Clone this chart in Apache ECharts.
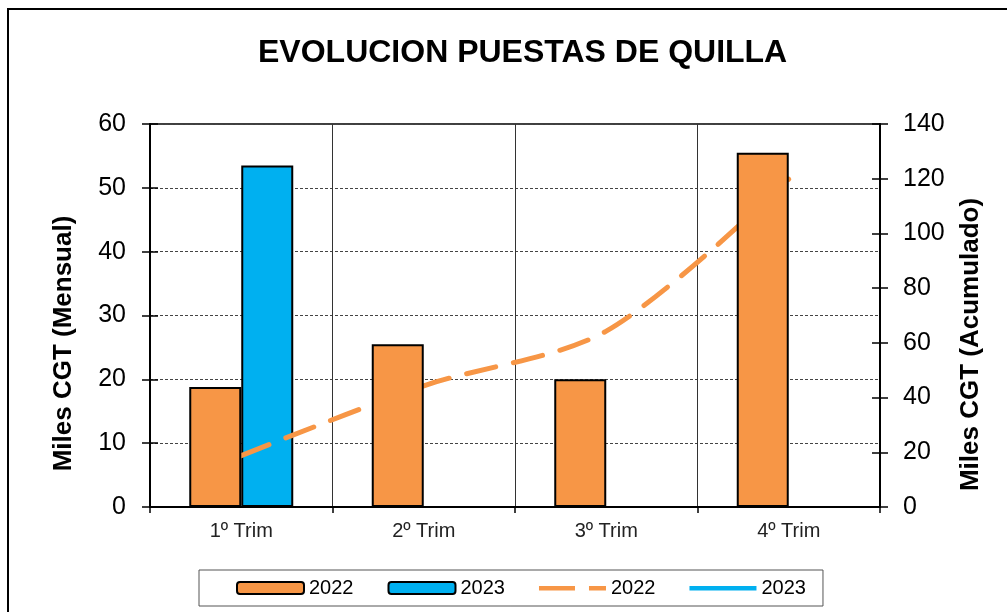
<!DOCTYPE html>
<html>
<head>
<meta charset="utf-8">
<script src="https://cdn.jsdelivr.net/npm/echarts@6/dist/echarts.min.js"></script>
<style>
  html, body { margin: 0; padding: 0; background: #fff; }
  #chart { width: 1007px; height: 612px; }
</style>
</head>
<body>
<div id="chart"></div>
<script>
// --- Data ---
const quarters = ['1º Trim', '2º Trim', '3º Trim', '4º Trim'];
const monthly2022 = [18.8, 25.5, 20.0, 55.5];
const monthly2023 = [53.5, null, null, null];
const accum2022 = [18.8, 44.3, 64.3, 119.8];
const accum2023 = [53.5, null, null, null];

const orange = '#F79646';
const blue = '#00B0F0';
const font = 'Arial, "Liberation Sans", sans-serif';

// legend icons for the line series (thin stroke centred in the icon box)
const dashIcon = 'path://M0,0h0.01v12h-0.01z M0,4h36v4.5h-36z M50,4h17v4.5h-17z';
const solidIcon = 'path://M0,0h0.01v12h-0.01z M0,4h67v4.5h-67z';

const chart = echarts.init(document.getElementById('chart'));

// helper: extra axis that only draws inside ticks (so ticks cross the axis line)
const innerTicks = (pos, max, interval) => ({
    type: 'value', position: pos, min: 0, max: max, interval: interval,
    axisLine: { show: false },
    axisTick: { show: true, inside: true, length: 8, lineStyle: { color: '#000', width: 1.5 } },
    axisLabel: { show: false },
    splitLine: { show: false }
});

const option = {
    animation: false,
    textStyle: { fontFamily: font },
    title: {
        text: 'EVOLUCION PUESTAS DE QUILLA',
        left: 253,
        top: 32,
        textStyle: { fontSize: 32, fontWeight: 'bold', color: '#000', fontFamily: font }
    },
    graphic: [{
        // outer chart frame (left/top only visible)
        type: 'rect',
        shape: { x: 8, y: 9, width: 1010, height: 620 },
        style: { fill: 'none', stroke: '#000', lineWidth: 2 },
        silent: true
    }],
    legend: {
        bottom: 6,
        left: 199,
        padding: [8, 17, 8, 37],
        borderColor: '#555',
        borderWidth: 1,
        itemGap: 34,
        itemWidth: 67,
        itemHeight: 12,
        textStyle: { fontSize: 20, color: '#000', fontFamily: font },
        data: [
            { name: 'b2022', itemStyle: { color: orange, borderColor: '#000', borderWidth: 2 } },
            { name: 'b2023', itemStyle: { color: blue, borderColor: '#000', borderWidth: 2 } },
            { name: 'l2022', icon: dashIcon, itemStyle: { color: orange, borderWidth: 0 } },
            { name: 'l2023', icon: solidIcon, itemStyle: { color: blue, borderWidth: 0 } }
        ],
        formatter: name => name.slice(1)
    },
    grid: { left: 150, right: 127, top: 124, bottom: 105, show: true, borderColor: '#000', borderWidth: 1.5 },
    xAxis: {
        type: 'category',
        data: quarters,
        axisLine: { lineStyle: { color: '#000', width: 2 } },
        axisTick: { show: true, length: 6, lineStyle: { color: '#000', width: 1.5 } },
        axisLabel: { fontSize: 20, color: '#222', margin: 14 },
        splitLine: { show: true, lineStyle: { color: '#333', width: 1 } }
    },
    yAxis: [{
        type: 'value',
        min: 0, max: 60, interval: 10,
        name: 'Miles CGT (Mensual)',
        nameLocation: 'middle',
        nameGap: 73,
        nameTextStyle: { fontSize: 26, fontWeight: 'bold', color: '#000', padding: [0, 56, 0, 0] },
        axisLine: { show: true, lineStyle: { color: '#000', width: 2 } },
        axisTick: { show: true, length: 8, lineStyle: { color: '#000', width: 1.5 } },
        axisLabel: { fontSize: 25, color: '#000', margin: 24 },
        splitLine: { show: true, lineStyle: { color: '#444', type: [3, 2], width: 1 } }
    }, {
        type: 'value',
        min: 0, max: 140, interval: 20,
        name: 'Miles CGT (Acumulado)',
        nameLocation: 'middle',
        nameGap: 78,
        nameTextStyle: { fontSize: 26, fontWeight: 'bold', color: '#000', padding: [0, 58, 0, 0] },
        axisLine: { show: true, lineStyle: { color: '#000', width: 2 } },
        axisTick: { show: true, length: 8, lineStyle: { color: '#000', width: 1.5 } },
        axisLabel: { fontSize: 25, color: '#000', margin: 23 },
        splitLine: { show: false }
    },
    innerTicks('left', 60, 10),
    innerTicks('right', 140, 20)],
    series: [{
        name: 'b2022',
        type: 'bar',
        data: monthly2022,
        barWidth: 52,
        barGap: 0,
        z: 4,
        itemStyle: { color: orange, borderColor: '#000', borderWidth: 2 }
    }, {
        name: 'b2023',
        type: 'bar',
        data: monthly2023,
        barWidth: 52,
        barGap: 0,
        z: 2,
        itemStyle: { color: blue, borderColor: '#000', borderWidth: 2 }
    }, {
        name: 'l2022',
        type: 'line',
        yAxisIndex: 1,
        data: accum2022,
        smooth: 0.3,
        showSymbol: false,
        symbol: 'none',
        z: 3,
        lineStyle: { color: orange, width: 5, type: [30, 18], cap: 'round' },
        itemStyle: { color: orange }
    }, {
        name: 'l2023',
        type: 'line',
        yAxisIndex: 1,
        data: accum2023,
        showSymbol: false,
        symbol: 'none',
        z: 3,
        lineStyle: { color: blue, width: 5 },
        itemStyle: { color: blue }
    }]
};

chart.setOption(option);

window.addEventListener('resize', function () {
    chart && chart.resize();
});
</script>
</body>
</html>
